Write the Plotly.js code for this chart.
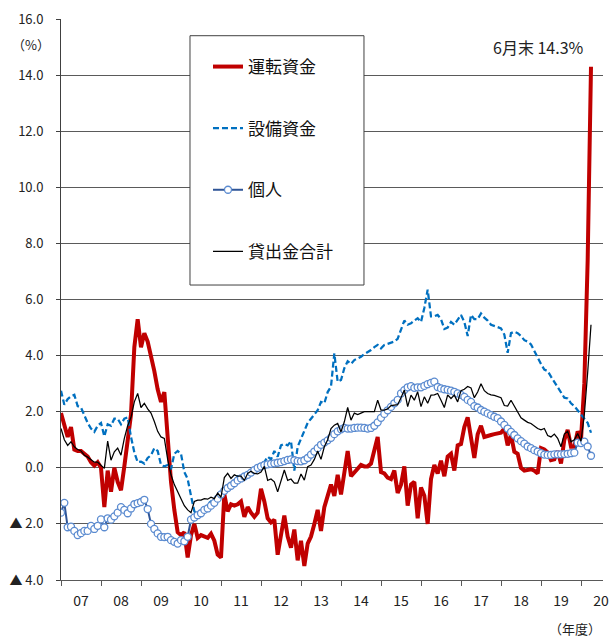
<!DOCTYPE html>
<html>
<head>
<meta charset="utf-8">
<script src="https://cdn.plot.ly/plotly-3.0.1.min.js"></script>
<style>html,body{margin:0;padding:0;background:#fff;}#chart{width:610px;height:637px;}</style>
</head>
<body>
<div id="chart"></div>
<script>
// Monthly series, Mar 2007 .. Jun 2020 (y/y %)
const seriesNames = ['運転資金', '設備資金', '個人', '貸出金合計'];

const workingCapital = [
  1.95, 1.45, 1.1, 1.45, 0.65, 0.6, 0.6, 0.5, 0.4, 0.2, 0.08, 0.2,
  0.0, -1.4, -0.1, -0.85, 0.0, -0.5, -0.8, 0.05, 0.95, 1.9, 4.3, 5.3,
  4.3, 4.8, 4.5, 4.0, 3.45, 2.8, 2.35, 2.7, 0.9, -0.5, -1.5, -2.3,
  -2.4, -2.3, -3.2, -2.4, -2.0, -2.5, -2.4, -2.45, -2.5, -2.35, -2.6, -3.1,
  -3.2, -0.95, -1.55, -1.3, -1.35, -1.3, -1.2, -1.75, -1.4, -1.6, -1.75, -1.6,
  -0.75, -1.2, -1.8, -1.95, -1.85, -3.1, -2.3, -1.7, -2.45, -2.85, -2.2, -3.3,
  -2.6, -3.5, -2.7, -2.45, -2.0, -1.5, -2.25, -1.4, -1.0, -0.6, -1.0, -0.25,
  -0.95, -0.1, 0.6, -0.3, -0.15, 0.0, 0.1, 0.05, 0.05, 0.15, 0.6, 1.1,
  -0.15, -0.2, -0.35, -0.4, -0.1, -0.9, -0.6, 0.05, -1.35, -0.6, -0.5, -1.8,
  -0.7, -1.0, -2.0, -0.4, 0.1, -0.2, 0.25, -0.3, 0.4, 0.5, -0.1, 0.8,
  0.85, 1.45, 1.8, 1.0, 0.35, 1.2, 1.5, 1.1, 1.15, 1.17, 1.2, 1.22,
  1.25, 1.4, 0.8, 1.17, 0.57, 0.5, 0.0, -0.1, -0.08, -0.05, -0.1, -0.2,
  0.7, 0.65, 0.55, 0.27, 0.3, 0.6, 0.15, 1.0, 1.35, 0.75, 0.75, 1.3,
  1.0, 3.0, 7.4, 14.3
];

const equipmentCapital = [
  2.75, 2.25, 2.45, 2.55, 2.6, 2.2, 2.15, 1.85, 1.6, 1.4, 1.28, 1.5,
  1.6, 1.12, 1.55, 1.5, 1.75, 1.75, 1.55, 1.75, 1.8, 1.1, 0.55, 0.2,
  0.22, 0.15, 0.35, 0.45, 0.7, 0.6, 0.1, 0.05, 0.1, -0.05, 0.5, 0.6,
  0.5, -0.15, -0.4, -1.0, -1.55, -1.7, -1.65, -1.5, -1.3, -1.2, -1.2, -1.15,
  -0.95, -0.8, -0.7, -0.6, -0.5, -0.3, -0.32, -0.3, -0.15, -0.12, 0.0, 0.05,
  0.2, 0.2, 0.4, 0.3, 0.6, 0.4, 0.8, 0.85, 0.8, 0.95, -0.1, 0.75,
  1.05, 1.3, 1.6, 1.75, 1.9, 2.05, 2.35, 2.3, 2.7, 2.9, 4.08, 3.07,
  3.13, 3.55, 3.8, 3.7, 3.84, 3.9, 3.96, 4.05, 4.12, 4.2, 4.3, 4.38,
  4.26, 4.38, 4.42, 4.45, 4.5, 4.6, 4.9, 5.25, 5.1, 5.15, 5.25, 5.33,
  5.2, 5.7, 6.35, 5.4, 5.4, 5.45, 5.3, 4.95, 5.0, 5.2, 5.1, 5.3,
  5.45, 5.2, 4.7, 5.45, 5.3, 5.3, 5.5, 5.35, 5.25, 5.1, 5.05, 5.0,
  4.97, 4.75, 4.1, 4.8, 4.85, 4.8, 4.7, 4.55, 4.5, 4.4, 4.15, 3.9,
  3.7, 3.5, 3.45, 3.25, 3.05, 2.85, 2.65, 2.5, 2.47, 2.3, 2.2, 2.06,
  1.9, 1.78, 1.6, 1.25
];

const personal = [
  -1.6, -1.25, -2.12, -2.1, -2.25, -2.4, -2.33, -2.25, -2.25, -2.07, -2.18, -2.07,
  -1.84, -2.12, -1.8, -1.85, -1.73, -1.6, -1.4, -1.5, -1.62, -1.45, -1.3, -1.26,
  -1.22, -1.14, -1.47, -2.0, -2.18, -2.34, -2.46, -2.47, -2.46, -2.58, -2.64, -2.7,
  -2.58, -2.62, -2.46, -1.85, -1.77, -1.69, -1.62, -1.5, -1.45, -1.35, -1.25, -1.1,
  -0.95, -0.82, -0.72, -0.64, -0.55, -0.45, -0.38, -0.31, -0.25, -0.17, -0.08, 0.0,
  0.05, 0.1, 0.12, 0.14, 0.16, 0.18, 0.2, 0.24, 0.28, 0.3, 0.27, 0.24,
  0.23, 0.27, 0.35, 0.47, 0.58, 0.7, 0.82, 0.9, 0.98, 1.07, 1.2, 1.3,
  1.37, 1.42, 1.4, 1.4, 1.42, 1.43, 1.43, 1.42, 1.4, 1.42, 1.5, 1.62,
  1.78, 1.92, 2.05, 2.17, 2.3, 2.42, 2.65, 2.77, 2.87, 2.91, 2.85, 2.87,
  2.87, 2.92, 2.98, 3.03, 3.07, 2.88, 2.83, 2.8, 2.78, 2.75, 2.71, 2.65,
  2.6, 2.53, 2.42, 2.35, 2.2, 2.15, 2.06, 2.0, 1.94, 1.88, 1.82, 1.77,
  1.65, 1.53, 1.4, 1.28, 1.17, 1.05, 0.95, 0.86, 0.76, 0.7, 0.63, 0.58,
  0.52, 0.47, 0.46, 0.46, 0.48, 0.48, 0.48, 0.49, 0.5, 0.52, 0.54, 0.9,
  0.88, 0.93, 0.76, 0.43
];

const totalLoans = [
  1.4, 1.0, 0.8, 0.93, 0.75, 0.65, 0.6, 0.45, 0.38, 0.3, 0.2, 0.2,
  0.1, -0.02, 0.95, 0.27, 0.57, 0.7, 0.45, 1.05, 1.5, 1.8, 2.35, 2.65,
  2.15, 2.3, 2.1, 1.95, 1.65, 1.3, 1.1, 1.05, 0.3, -0.25, -0.6, -0.88,
  -1.1, -1.35, -1.5, -1.6, -1.2, -1.15, -1.15, -1.1, -1.12, -1.05, -1.1, -0.9,
  -1.05, -0.35, -0.2, -0.38, -0.25, -0.3, -0.3, -0.45, -0.2, -0.12, -0.2, -0.22,
  -0.15, 0.05, -0.45, -0.4, -0.5, -0.86, -0.45, -0.08, -0.45, -0.4, -0.55, -0.55,
  -0.22, -0.44, 0.04, 0.1, 0.3, 0.6, 0.3, 0.75, 1.0, 1.4, 1.52, 1.58,
  1.28, 1.64, 2.15, 1.7, 1.95, 1.9, 1.95, 2.0, 2.0, 2.0, 2.0, 2.41,
  2.06, 2.06, 2.1, 2.22, 2.24, 2.25, 2.5, 2.77, 2.18, 2.59, 2.41, 2.71,
  2.18, 2.53, 2.3, 2.59, 2.6, 2.65, 2.41, 2.15, 2.6, 2.47, 2.59, 2.35,
  2.75, 2.8, 2.9, 2.85, 2.5, 2.7, 3.0, 2.75, 2.65, 2.6, 2.58, 2.55,
  2.5, 2.22, 2.2, 2.41, 2.2, 2.0, 1.78, 1.7, 1.62, 1.58, 1.48, 1.4,
  1.35, 1.4, 1.15, 1.1, 1.2, 1.05, 0.75, 1.2, 1.3, 0.93, 1.0, 1.22,
  0.95, 1.9, 3.4, 5.1
];

const fyLabels = ['07','08','09','10','11','12','13','14','15','16','17','18','19','20'];
const yTickValues = [-4, -2, 0, 2, 4, 6, 8, 10, 12, 14, 16];
const yTickLabels = ['▲ 4.0','▲ 2.0','0.0','2.0','4.0','6.0','8.0','10.0','12.0','14.0','16.0'];
const peakNote = '6月末 14.3%';

// ---- build ----
const monthIdx = workingCapital.map((_, i) => i);
const xMax = 162.6;
const boundaries = fyLabels.map((_, k) => 12 * k).filter(v => v <= xMax);
const labelPos = fyLabels.map((_, k) => Math.min(12 * k + 6, xMax - 0.3));

const FONT = 'Noto Sans CJK JP, Noto Sans, sans-serif';

const traces = [
  {x: monthIdx, y: workingCapital, name: seriesNames[0], legendgroup: 'a', mode: 'lines',
   line: {color: '#C00000', width: 4}},
  {x: monthIdx, y: equipmentCapital, name: seriesNames[1], legendgroup: 'b', mode: 'lines',
   line: {color: '#0070C0', width: 2.25, dash: '6px,3px'}},
  {x: monthIdx, y: personal, name: seriesNames[2], legendgroup: 'c', mode: 'lines+markers',
   line: {color: '#2F5597', width: 2},
   marker: {symbol: 'circle', size: 7, color: '#ffffff', line: {color: '#5B8BD0', width: 1.3}}},
  {x: monthIdx, y: totalLoans, name: seriesNames[3], legendgroup: 'd', mode: 'lines',
   line: {color: '#000000', width: 1.25}}
];

const layout = {
  width: 610, height: 637,
  margin: {l: 61, r: 7, t: 19, b: 57},
  paper_bgcolor: '#ffffff', plot_bgcolor: '#ffffff',
  font: {family: FONT, color: '#222222'},
  showlegend: true,
  hovermode: false,
  legend: {
    x: 0.2712, y: 0.9465, xanchor: 'left', yanchor: 'top',
    bgcolor: 'rgba(0,0,0,0)', borderwidth: 0,
    font: {family: FONT, size: 17, color: '#111111'},
    tracegroupgap: 36.5
  },
  xaxis: {
    range: [0, xMax], tickmode: 'array', tickvals: labelPos, ticktext: fyLabels,
    ticks: '', showgrid: false, zeroline: false, showline: true,
    linecolor: '#595959', linewidth: 1,
    tickfont: {family: FONT, size: 14, color: '#222222'},
    ticklabelstandoff: 8,
    minor: {tickmode: 'array', tickvals: boundaries, ticks: 'outside', ticklen: 5,
            tickcolor: '#595959', tickwidth: 1, showgrid: false}
  },
  yaxis: {
    range: [-4, 16], tickmode: 'array', tickvals: yTickValues, ticktext: yTickLabels,
    ticks: 'outside', ticklen: 4, tickcolor: '#404040', tickwidth: 1,
    showgrid: true, gridcolor: '#5a5a5a', gridwidth: 1,
    zeroline: false, showline: true, linecolor: '#404040', linewidth: 1,
    tickfont: {family: FONT, size: 13, color: '#222222'},
    ticklabelstandoff: 10
  },
  shapes: [{
    type: 'rect', xref: 'paper', yref: 'paper',
    x0: 0.2380, x1: 0.5590, y0: 0.5258, y1: 0.9702,
    line: {color: '#404040', width: 1}, fillcolor: '#ffffff', layer: 'above'
  }],
  annotations: [
    {xref: 'paper', yref: 'paper', x: 0.9686, y: 0.9506, xanchor: 'right', yanchor: 'middle',
     text: peakNote, showarrow: false, font: {family: FONT, size: 16, color: '#222222'}},
    {xref: 'paper', yref: 'paper', x: -0.0554, y: 0.9537, xanchor: 'center', yanchor: 'middle',
     text: '（%）', showarrow: false, font: {family: FONT, size: 13, color: '#222222'}},
    {xref: 'paper', yref: 'paper', x: 0.949, y: -0.0856, xanchor: 'center', yanchor: 'middle',
     text: '（年度）', showarrow: false, font: {family: FONT, size: 13, color: '#222222'}}
  ]
};

Plotly.newPlot('chart', traces, layout, {displayModeBar: false, staticPlot: true});
</script>
</body>
</html>
